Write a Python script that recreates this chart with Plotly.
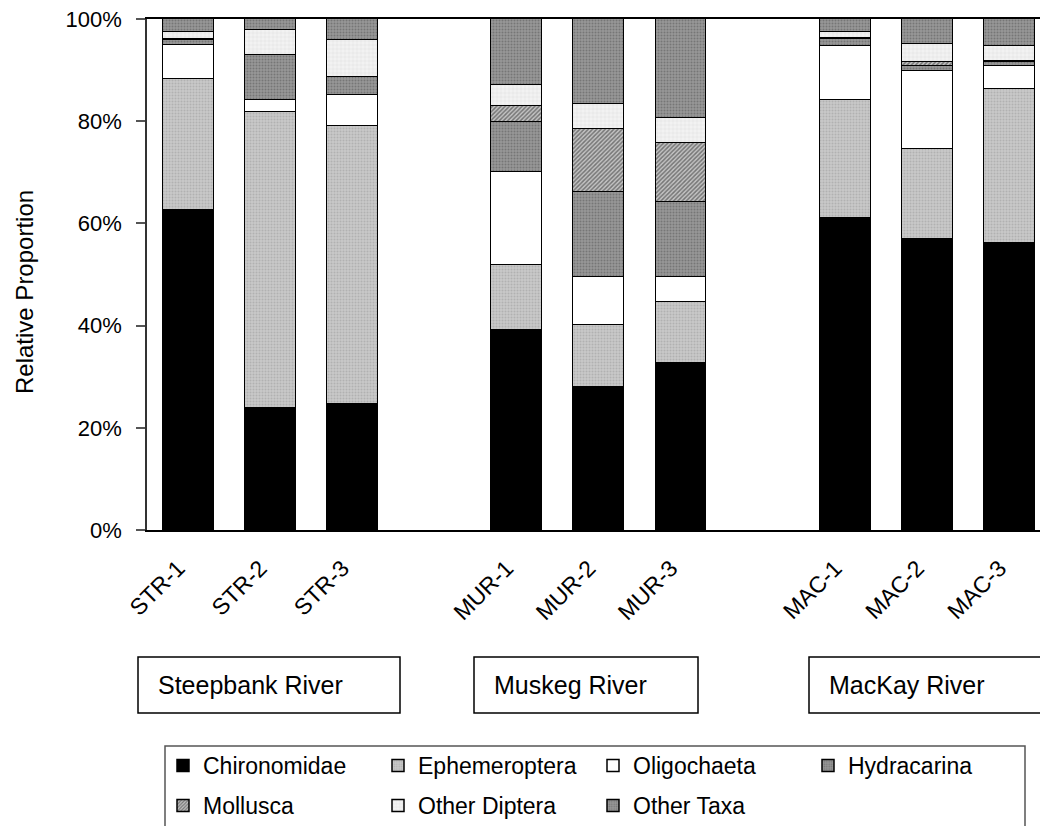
import plotly.graph_objects as go

# ---------------- data ----------------
rivers = ["Steepbank River", "Muskeg River", "MacKay River"]
sites = ["STR-1", "STR-2", "STR-3", "MUR-1", "MUR-2", "MUR-3", "MAC-1", "MAC-2", "MAC-3"]
site_river = [0, 0, 0, 1, 1, 1, 2, 2, 2]

chironomidae = [62.6, 23.9, 24.6, 39.1, 28.0, 32.6, 61.0, 56.9, 56.1]
ephemeroptera = [25.7, 57.9, 54.5, 12.8, 12.1, 12.0, 23.1, 17.7, 30.3]
oligochaeta = [6.7, 2.3, 6.1, 18.1, 9.5, 5.0, 10.7, 15.2, 4.5]
hydracarina = [0.8, 8.8, 3.5, 9.9, 16.6, 14.5, 1.2, 1.0, 0.6]
mollusca = [0.3, 0.0, 0.0, 3.1, 12.2, 11.7, 0.3, 0.7, 0.3]
other_diptera = [1.3, 4.9, 7.2, 4.1, 4.9, 4.8, 1.1, 3.6, 3.0]
other_taxa = [2.7, 2.2, 4.1, 12.9, 16.7, 19.4, 2.6, 4.9, 5.2]

y_ticks = [0, 20, 40, 60, 80, 100]

# ---------------- layout constants ----------------
W, H = 1040, 826
ML, MR, MT, MB = 147, 0, 19, 296
PW, PH = W - ML - MR, H - MT - MB
FONT = "Arial, 'Liberation Sans', sans-serif"

def px_x(p):
    return (p - ML) / PW

def px_y(p):
    return (H - MB - p) / PH

# slot positions: three sites per river, one empty slot between rivers
xpos = [site_river[i] * 4 + (i % 3) for i in range(len(sites))]
slot_px = 82.15
x_range = [-0.5, PW / slot_px - 0.5]

DOTS_MID = dict(shape=".", fgcolor="#555555", bgcolor="#979797", size=3, solidity=0.35)
series = [
    ("Chironomidae", chironomidae, dict(color="#000000")),
    ("Ephemeroptera", ephemeroptera,
     dict(color="#c0c0c0", pattern=dict(shape=".", fgcolor="#999999", bgcolor="#c8c8c8", size=3, solidity=0.35))),
    ("Oligochaeta", oligochaeta, dict(color="#ffffff")),
    ("Hydracarina", hydracarina, dict(color="#8a8a8a", pattern=DOTS_MID)),
    ("Mollusca", mollusca,
     dict(color="#808080", pattern=dict(shape="/", fgcolor="#262626", bgcolor="#c4c4c4", size=3, solidity=0.5))),
    ("Other Diptera", other_diptera,
     dict(color="#ececec", pattern=dict(shape="+", fgcolor="#cccccc", bgcolor="#f2f2f2", size=4, solidity=0.25))),
    ("Other Taxa", other_taxa, dict(color="#8a8a8a", pattern=DOTS_MID)),
]

legend_ids = ["legend"] + [f"legend{k}" for k in range(2, len(series) + 1)]

fig = go.Figure()
for (name, vals, mk), lg in zip(series, legend_ids):
    marker = dict(mk)
    marker["line"] = dict(color="#000000", width=1.5)
    fig.add_trace(go.Bar(
        name=name, x=xpos, y=vals, width=0.62, marker=marker,
        legend=lg, hoverinfo="name+y",
    ))

legend_layout = {}
for i, lg in enumerate(legend_ids):
    row, col = divmod(i, 4)
    legend_layout[lg] = dict(
        x=px_x(163 + 215 * col), y=px_y(744 + 40 * row),
        xanchor="left", yanchor="top", font=dict(size=23),
        bgcolor="rgba(0,0,0,0)", borderwidth=0,
    )

fig.update_layout(
    width=W, height=H,
    margin=dict(l=ML, r=MR, t=MT, b=MB, pad=0, autoexpand=False),
    barmode="stack",
    plot_bgcolor="white", paper_bgcolor="white",
    font=dict(family=FONT, size=21, color="#000000"),
    bargap=0,
    showlegend=True,
    **legend_layout,
)

fig.update_xaxes(
    range=x_range, tickmode="array", tickvals=xpos, ticktext=sites,
    tickangle=-45, ticks="", showline=True, linecolor="#000000", linewidth=1.5,
    mirror=True, showgrid=False, zeroline=False, ticklabelstandoff=14,
    ticklabelshift=-10, tickfont=dict(size=23),
)
fig.update_yaxes(
    range=[0, 100], tickmode="array", tickvals=y_ticks,
    ticktext=[f"{v}%" for v in y_ticks],
    ticks="outside", ticklen=9, tickcolor="#555555", tickwidth=1.5,
    showline=True, linecolor="#333333", linewidth=1.5, showgrid=False,
    zeroline=False, ticklabelstandoff=10, tickfont=dict(size=22),
)

# y-axis title
fig.add_annotation(
    text="Relative Proportion", xref="paper", yref="paper",
    x=px_x(24), y=px_y(292), showarrow=False, textangle=-90,
    font=dict(size=24), xanchor="center", yanchor="middle",
)

# river label boxes
river_boxes = [(138, 400), (474, 698), (809, 1060)]
for (bx0, bx1), rname in zip(river_boxes, rivers):
    fig.add_shape(type="rect", xref="paper", yref="paper",
                  x0=px_x(bx0), x1=px_x(bx1), y0=px_y(713), y1=px_y(657),
                  line=dict(color="#000000", width=1.5), fillcolor="white", layer="above")
    fig.add_annotation(text=rname, xref="paper", yref="paper",
                       x=px_x(bx0 + 18), y=px_y(685), xanchor="left", yanchor="middle",
                       showarrow=False, font=dict(size=25))

# legend frame
fig.add_shape(type="rect", xref="paper", yref="paper",
              x0=px_x(165), x1=px_x(1025), y0=px_y(846), y1=px_y(746),
              line=dict(color="#555555", width=1.5), fillcolor="rgba(0,0,0,0)", layer="above")

fig.write_html(
    "out.html",
    config={"displayModeBar": False},
    post_script="document.body.style.margin='0';document.body.style.overflow='hidden';",
)
